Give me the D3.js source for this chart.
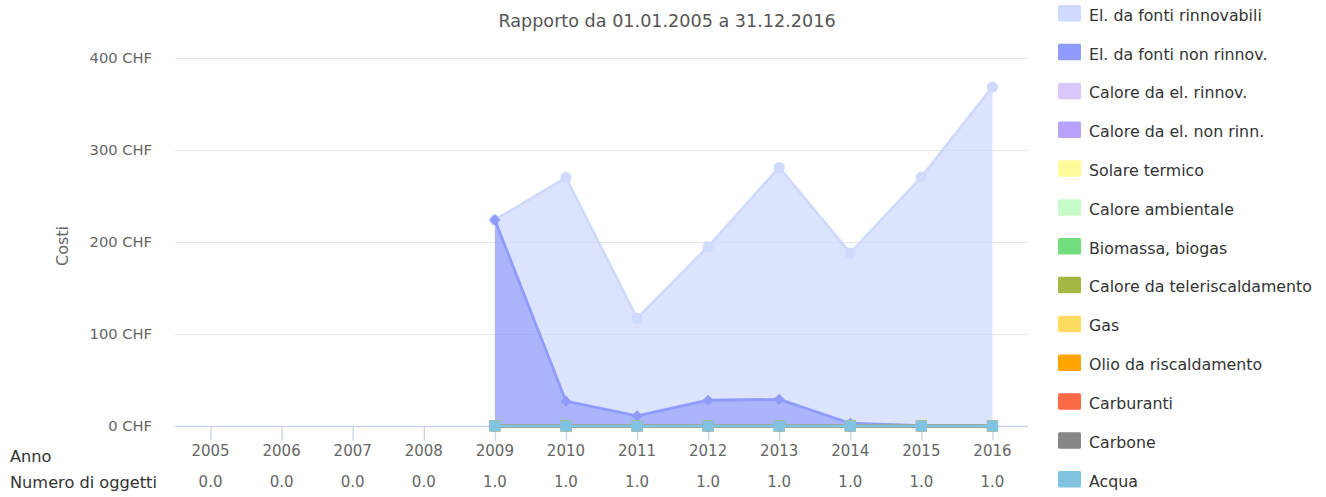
<!DOCTYPE html>
<html><head><meta charset="utf-8">
<script src="https://cdn.jsdelivr.net/npm/d3@7"></script>
<style>
html,body{margin:0;padding:0;background:#fff;}
svg{display:block;font-family:"DejaVu Sans",sans-serif;}
</style></head>
<body><svg id="chart" width="1326" height="497"></svg>
<script>
const years = ["2005","2006","2007","2008","2009","2010","2011","2012","2013","2014","2015","2016"];
const objectCounts = ["0.0","0.0","0.0","0.0","1.0","1.0","1.0","1.0","1.0","1.0","1.0","1.0"];
const yTicks = [0,100,200,300,400];
const seriesNames = ["El. da fonti rinnovabili","El. da fonti non rinnov.","Calore da el. rinnov.","Calore da el. non rinn.","Solare termico","Calore ambientale","Biomassa, biogas","Calore da teleriscaldamento","Gas","Olio da riscaldamento","Carburanti","Carbone","Acqua"];
const seriesColors = ["#d0dafc","#8f9cfb","#d9c6fb","#b8a2fa","#fdfb9a","#c7fcc8","#72dd7c","#a3b843","#fedc62","#fea500","#fe6a45","#878787","#80c4e1"];
const elRinnov    = [null,null,null,null,0,243,106,167,252,185,270,368];
const elNonRinnov = [null,null,null,null,224,27,11,28,29,3,0.5,0.5];
const zeroSeries  = [null,null,null,null,0,0,0,0,0,0,0,0];
const seriesValues = [elRinnov, elNonRinnov, zeroSeries, zeroSeries, zeroSeries, zeroSeries, zeroSeries, zeroSeries, zeroSeries, zeroSeries, zeroSeries, zeroSeries, zeroSeries];
const title = "Rapporto da 01.01.2005 a 31.12.2016";
const yTitle = "Costi";
const rowLabels = ["Anno","Numero di oggetti"];

const svg = d3.select("#chart");
const L = 175, R = 1028, T = 58, B = 426;
const x = d3.scalePoint().domain(years).range([L, R]).padding(0.5);
const y = d3.scaleLinear().domain([0,400]).range([B, T]);

// title
svg.append("text").attr("x", 667).attr("y", 27).attr("text-anchor","middle")
  .attr("font-size", 17.6).attr("fill","#555").text(title);

// grid
const yAxis = d3.axisLeft(y).tickValues(yTicks).tickSize(-(R-L)).tickPadding(23)
  .tickFormat(d => d + " CHF");
const gy = svg.append("g").attr("transform", `translate(${L},0)`).call(yAxis);
gy.select(".domain").remove();
gy.selectAll(".tick line").attr("stroke","#e6e6e6").attr("stroke-width",1.2)
  .attr("opacity", d => d === 0 ? 0 : 1);
gy.selectAll(".tick text").attr("fill","#666").attr("font-size",14.7).attr("font-family","DejaVu Sans");

// y title
svg.append("text").attr("transform","translate(68,246) rotate(-90)").attr("text-anchor","middle")
  .attr("font-size",16).attr("fill","#666").text(yTitle);

// x axis (drawn beneath the series)
const xAxis = d3.axisBottom(x).tickSize(14).tickFormat("");
const gx = svg.append("g").attr("transform", `translate(0,${B+0.5})`).call(xAxis);
gx.select(".domain").attr("stroke","#ccd6eb").attr("stroke-width",1.4).attr("d", `M${L},0H${R}`);
gx.selectAll(".tick line").attr("stroke","#ccd6eb").attr("stroke-width",1.4);

// stacking (series 0 on top, like Highcharts)
const table = years.map((yr,i) => {
  const o = {year: yr};
  seriesNames.forEach((n,k) => o[n] = seriesValues[k][i] == null ? 0 : seriesValues[k][i]);
  return o;
});
const stack = d3.stack().keys(seriesNames.slice().reverse());
const stacked = stack(table);
const stackByName = {};
stacked.forEach(s => stackByName[s.key] = s);

const plot = svg.append("g");

function symbolPath(kind, cx, cy, r){
  if(kind===0) return `M${cx-r},${cy}a${r},${r} 0 1,0 ${2*r},0a${r},${r} 0 1,0 ${-2*r},0Z`;
  if(kind===1) return `M${cx},${cy-r}L${cx+r},${cy}L${cx},${cy+r}L${cx-r},${cy}Z`;
  if(kind===2) return `M${cx-r},${cy-r}H${cx+r}V${cy+r}H${cx-r}Z`;
  if(kind===3) return `M${cx},${cy-r}L${cx+r},${cy+r}H${cx-r}Z`;
  return `M${cx-r},${cy-r}H${cx+r}L${cx},${cy+r}Z`;
}

seriesNames.forEach((name,k) => {
  const s = stackByName[name];
  const vals = seriesValues[k];
  const pts = years.map((yr,i) => ({yr, i, y0: s[i][0], y1: s[i][1], def: vals[i] != null}));
  const area = d3.area().defined(d => d.def).x(d => x(d.yr)).y0(d => y(d.y0)).y1(d => y(d.y1));
  const line = d3.line().defined(d => d.def).x(d => x(d.yr)).y(d => y(d.y1));
  const g = plot.append("g");
  g.append("path").attr("d", area(pts)).attr("fill", seriesColors[k]).attr("fill-opacity",0.75);
  g.append("path").attr("d", line(pts)).attr("fill","none").attr("stroke", seriesColors[k])
    .attr("stroke-width",2.8).attr("stroke-linejoin","round");
  g.selectAll("path.m").data(pts.filter(d => d.def)).enter().append("path").attr("class","m")
    .attr("d", d => symbolPath(k%5, x(d.yr), y(d.y1), 5.6)).attr("fill", seriesColors[k]);
});

// x labels rows
const lab = svg.append("g");
lab.selectAll("text.yr").data(years).enter().append("text").attr("class","yr")
  .attr("x", d => x(d)).attr("y", 456).attr("text-anchor","middle")
  .attr("font-size",15).attr("fill","#666").text(d => d);
lab.selectAll("text.cnt").data(years).enter().append("text").attr("class","cnt")
  .attr("x", d => x(d)).attr("y", 487).attr("text-anchor","middle")
  .attr("font-size",15).attr("fill","#666").text((d,i) => objectCounts[i]);
lab.selectAll("text.row").data(rowLabels).enter().append("text").attr("class","row")
  .attr("x", 10).attr("y", (d,i) => i===0 ? 462 : 488)
  .attr("font-size",16.2).attr("fill","#333").text(d => d);

// legend
const leg = svg.append("g");
const li = leg.selectAll("g").data(seriesNames).enter().append("g")
  .attr("transform", (d,i) => `translate(1058,${5 + i*38.83})`);
li.append("rect").attr("width",23).attr("height",16.5).attr("rx",1.5).attr("fill",(d,i) => seriesColors[i]);
li.append("text").attr("x",31).attr("y",15.7).attr("font-size",15.8).attr("fill","#333").text(d => d);
</script></body></html>
